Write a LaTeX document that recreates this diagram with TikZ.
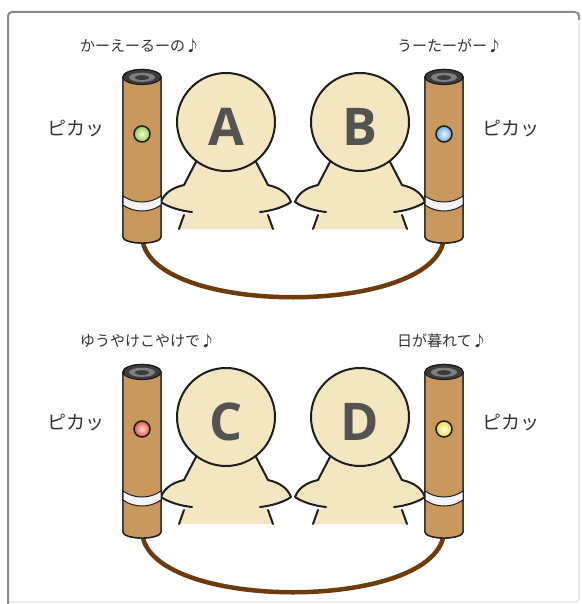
\documentclass[tikz,border=0pt]{standalone}
\usepackage{fontspec}
\newfontfamily\jpfont{Noto Sans CJK JP}
\newfontfamily\capfont{Open Sans}

\definecolor{skin}{HTML}{F5E6C2}
\definecolor{tubetan}{HTML}{C8985C}
\definecolor{cablebrown}{HTML}{6E3C0C}
\definecolor{ink}{HTML}{1E1E1E}
\definecolor{lettergray}{HTML}{555252}
\definecolor{textgray}{HTML}{333333}
\definecolor{capdark}{HTML}{3C3C3C}
\definecolor{capmid}{HTML}{808080}
\definecolor{framedark}{HTML}{8A8A8A}
\definecolor{framelight}{HTML}{E2E2E2}
% lamp colours: centre glow / rim
\definecolor{greenin}{HTML}{F2FFD6}\definecolor{greenout}{HTML}{98C858}
\definecolor{bluein}{HTML}{EAF6FF}\definecolor{blueout}{HTML}{68A8E6}
\definecolor{redin}{HTML}{FFD9CB}\definecolor{redout}{HTML}{E65446}
\definecolor{yellowin}{HTML}{FFFFE4}\definecolor{yellowout}{HTML}{ECDA3C}

\tikzset{
  outline/.style={draw=ink, line width=2pt, line cap=round, line join=round},
  tubeline/.style={draw=ink, line width=1.4pt, line join=round},
  cable/.style={draw=cablebrown, line width=4.5pt, line cap=round},
  lyric/.style={font=\jpfont\fontsize{15}{15}\selectfont, text=textgray, inner sep=0pt, anchor=west},
  flash/.style={font=\jpfont\fontsize{19}{19}\selectfont, text=textgray, inner sep=0pt, anchor=west},
  letter/.style={font=\capfont\bfseries\fontsize{52}{52}\selectfont, text=lettergray, inner sep=0pt},
  % a round-headed figure with its arms out; #1 is the letter on its face
  pics/kid/.style={code={
    \fill[skin] (-28,36) -- (-42,63) .. controls (-55,66) and (-62,72) .. (-65,80)
      .. controls (-58,85) and (-45,89) .. (-34,90) -- (-42,93) -- (-47,107)
      -- (47,107) -- (42,93) -- (34,90) .. controls (45,89) and (58,85) .. (65,80)
      .. controls (62,72) and (55,66) .. (42,63) -- (28,36) -- cycle;
    \draw[outline] (-28,36) -- (-42,63) .. controls (-55,66) and (-62,72) .. (-65,80)
      .. controls (-58,85) and (-45,89) .. (-34,90);
    \draw[outline] (28,36) -- (42,63) .. controls (55,66) and (62,72) .. (65,80)
      .. controls (58,85) and (45,89) .. (34,90);
    \draw[outline] (-42,93) -- (-47,107);
    \draw[outline] (42,93) -- (47,107);
    \node[circle, minimum size=98pt, inner sep=0pt, fill=skin, draw=ink, line width=2pt] (-head) at (0,0) {};
    \node[letter] (-letter) at (0,4.5) {#1};
  }},
  % a flashlight tube; #1/#2 are the lamp's centre and rim colours
  pics/tube/.style n args={2}{code={
    \fill[tubetan] (-19,0) -- (-19,160) arc[start angle=180, end angle=0, x radius=19, y radius=6] -- (19,0) -- cycle;
    \draw[tubeline] (-19,0) -- (-19,160) arc[start angle=180, end angle=0, x radius=19, y radius=6] -- (19,0);
    \filldraw[fill=white!92!gray, draw=ink, line width=1pt]
      (-19,119) .. controls (-8,127) and (8,127) .. (19,119) -- (19,128)
      .. controls (8,136) and (-8,136) .. (-19,128) -- cycle;
    \filldraw[fill=capdark, draw=ink, line width=1.2pt] (0,0) ellipse[x radius=19, y radius=7.5];
    \fill[capmid] (0,0.3) ellipse[x radius=13, y radius=4.6];
    \fill[capdark] (0,0.6) ellipse[x radius=7, y radius=2.4];
    \shade[inner color=#1, outer color=#2] (0,57) circle[radius=8];
    \draw[ink, line width=1.5pt] (0,57) circle[radius=8];
    \coordinate (-end) at (0,158);
  }},
}

\begin{document}
\begin{tikzpicture}[x=1pt, y=-1pt]
  \useasboundingbox (0,0) rectangle (581,604);
  \fill[white] (0,0) rectangle (581,604);

  % panel frame
  \draw[framelight, line width=1.2pt, rounded corners=4pt] (579,12) -- (579,602) -- (8,602);
  \draw[framedark, line width=2pt, rounded corners=4pt] (8,604) -- (8,12) -- (579,12) -- (579,20);

  % ---- upper pair ----
  \coordinate (tapos) at (142,77);
  \coordinate (tbpos) at (444,77);
  \pic (ta) at (tapos) {tube={greenin}{greenout}};
  \pic (tb) at (tbpos) {tube={bluein}{blueout}};
  \draw[cable] (ta-end) .. controls +(0,83) and +(0,83) .. (tb-end);
  \pic (ka) at (226,122) {kid=A};
  \pic (kb) at (360,122) {kid=B};
  \pic (ta) at (tapos) {tube={greenin}{greenout}};
  \pic (tb) at (tbpos) {tube={bluein}{blueout}};

  \node[lyric] (lyra) at (80,46) {かーえーるーの♪};
  \node[lyric] (lyrb) at (397,46) {うーたーがー♪};
  \node[flash] (fla) at (47,129) {ピカッ};
  \node[flash] (flb) at (482,129) {ピカッ};

  % ---- lower pair ----
  \coordinate (tcpos) at (142,372);
  \coordinate (tdpos) at (444,372);
  \pic (tc) at (tcpos) {tube={redin}{redout}};
  \pic (td) at (tdpos) {tube={yellowin}{yellowout}};
  \draw[cable] (tc-end) .. controls +(0,83) and +(0,83) .. (td-end);
  \pic (kc) at (226,417) {kid=C};
  \pic (kd) at (360,417) {kid=D};
  \pic (tc) at (tcpos) {tube={redin}{redout}};
  \pic (td) at (tdpos) {tube={yellowin}{yellowout}};

  \node[lyric] (lyrc) at (80,341) {ゆうやけこやけで♪};
  \node[lyric] (lyrd) at (397,341) {日が暮れて♪};
  \node[flash] (flc) at (47,423) {ピカッ};
  \node[flash] (fld) at (482,423) {ピカッ};
\end{tikzpicture}
\end{document}
